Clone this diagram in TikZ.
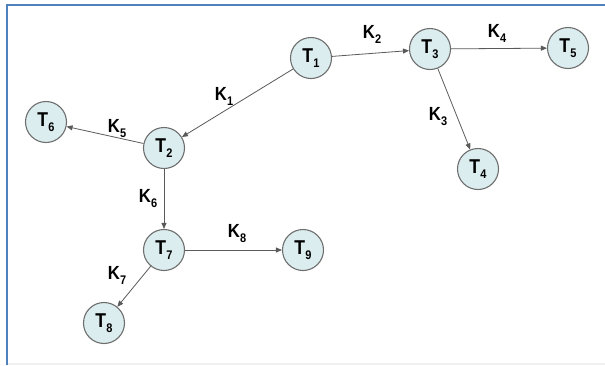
\documentclass[tikz,border=0pt]{standalone}
\usepackage{fontspec}
\usepackage{graphicx}
\setmainfont{Liberation Sans}
\usetikzlibrary{arrows.meta}
\definecolor{nodefill}{HTML}{DCEDEF}
\definecolor{nodeline}{HTML}{6E6E6E}
\definecolor{edgeline}{HTML}{5A5A5A}
\definecolor{frameblue}{HTML}{4F81BD}
\newcommand{\sublab}[2]{\scalebox{0.88}[1]{#1\kern0.3pt\raisebox{-0.5ex}{\fontsize{12.5pt}{12.5pt}\selectfont #2}}}
\tikzset{
  tnode/.style={circle, draw=nodeline, fill=nodefill, line width=1.1pt, minimum size=41pt, inner sep=0pt,
    font=\fontsize{20pt}{20pt}\selectfont\bfseries},
  klabel/.style={font=\fontsize{19pt}{19pt}\selectfont\bfseries, inner sep=0pt},
  edge/.style={draw=edgeline, line width=0.8pt, -{Triangle[length=6pt,width=5pt]}}
}
\begin{document}
\begin{tikzpicture}[x=1pt,y=-1pt]
\useasboundingbox (0,0) rectangle (605,365);
\fill[white] (0,0) rectangle (605,365);
\draw[frameblue, line width=2pt] (7,365) -- (7,5) -- (605,5);
\draw[black!6, line width=2pt] (8,364) -- (605,364);
\node[tnode] (T1) at (311,58) {\sublab{T}{1}};
\node[tnode] (T2) at (164,148) {\sublab{T}{2}};
\node[tnode] (T3) at (430,49) {\sublab{T}{3}};
\node[tnode] (T4) at (478,169) {\sublab{T}{4}};
\node[tnode] (T5) at (568,48) {\sublab{T}{5}};
\node[tnode] (T6) at (46,122) {\sublab{T}{6}};
\node[tnode] (T7) at (164,250) {\sublab{T}{7}};
\node[tnode] (T8) at (104,323) {\sublab{T}{8}};
\node[tnode] (T9) at (303,250) {\sublab{T}{9}};
\draw[edge] (T1) -- (T2);
\draw[edge] (T1) -- (T3);
\draw[edge] (T3) -- (T4);
\draw[edge] (T3) -- (T5);
\draw[edge] (T2) -- (T6);
\draw[edge] (T2) -- (T7);
\draw[edge] (T7) -- (T8);
\draw[edge] (T7) -- (T9);
\node[klabel] (K1) at (224,96) {\sublab{K}{1}};
\node[klabel] (K2) at (372,34) {\sublab{K}{2}};
\node[klabel] (K3) at (438,117) {\sublab{K}{3}};
\node[klabel] (K4) at (497,33) {\sublab{K}{4}};
\node[klabel] (K5) at (117,129) {\sublab{K}{5}};
\node[klabel] (K6) at (148,199) {\sublab{K}{6}};
\node[klabel] (K7) at (117,275) {\sublab{K}{7}};
\node[klabel] (K8) at (237,234) {\sublab{K}{8}};
\end{tikzpicture}
\end{document}
